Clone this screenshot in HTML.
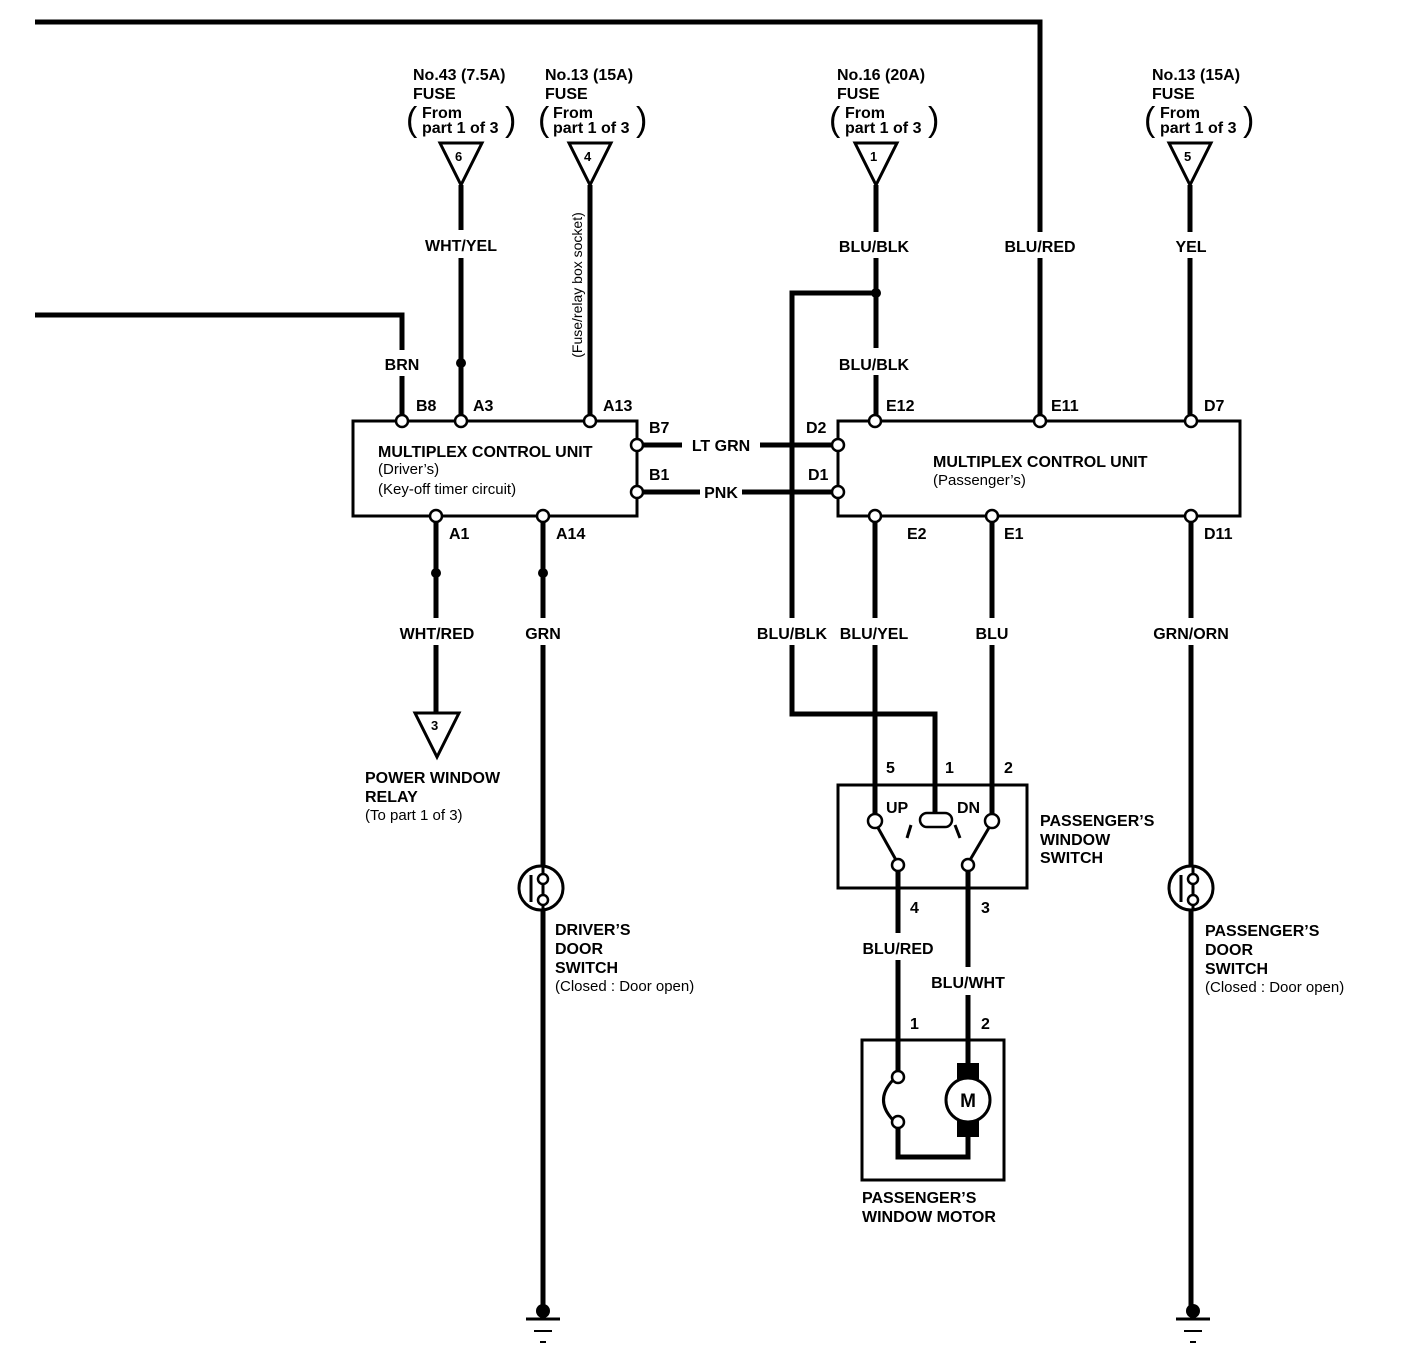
<!DOCTYPE html>
<html><head><meta charset="utf-8"><style>
html,body{margin:0;padding:0;background:#fff}
svg{display:block}
text{font-family:"Liberation Sans",Arial,sans-serif;font-weight:bold;fill:#000;font-size:16px}
.s{font-size:15px;font-weight:normal}
.w{stroke:#000;stroke-width:5;fill:none}
.b{stroke:#000;stroke-width:3;fill:none}
.p{stroke:#000;stroke-width:2.5;fill:#fff}
</style></head><body>
<svg width="1408" height="1366" viewBox="0 0 1408 1366" xmlns="http://www.w3.org/2000/svg">
<polyline class="w" points="35,22 1040,22 1040,232"/>
<line class="w" x1="1040" y1="258" x2="1040" y2="421"/>
<polyline class="w" points="35,315 402,315 402,350"/>
<line class="w" x1="402" y1="376" x2="402" y2="421"/>

<g id="fuses">
<text x="413" y="80">No.43 (7.5A)</text><text x="413" y="99">FUSE</text>
<text x="422" y="118">From</text><text x="422" y="133">part 1 of 3</text>
<text x="406" y="131" style="font-size:34px;font-weight:normal">(</text><text x="505" y="131" style="font-size:34px;font-weight:normal">)</text>
<polygon class="b" points="440,143 482,143 461,185" style="fill:#fff"/><text x="455" y="161" style="font-size:13px">6</text>

<text x="545" y="80">No.13 (15A)</text><text x="545" y="99">FUSE</text>
<text x="553" y="118">From</text><text x="553" y="133">part 1 of 3</text>
<text x="538" y="131" style="font-size:34px;font-weight:normal">(</text><text x="636" y="131" style="font-size:34px;font-weight:normal">)</text>
<polygon class="b" points="569,143 611,143 590,185" style="fill:#fff"/><text x="584" y="161" style="font-size:13px">4</text>

<text x="837" y="80">No.16 (20A)</text><text x="837" y="99">FUSE</text>
<text x="845" y="118">From</text><text x="845" y="133">part 1 of 3</text>
<text x="829" y="131" style="font-size:34px;font-weight:normal">(</text><text x="928" y="131" style="font-size:34px;font-weight:normal">)</text>
<polygon class="b" points="855,143 897,143 876,185" style="fill:#fff"/><text x="870" y="161" style="font-size:13px">1</text>

<text x="1152" y="80">No.13 (15A)</text><text x="1152" y="99">FUSE</text>
<text x="1160" y="118">From</text><text x="1160" y="133">part 1 of 3</text>
<text x="1144" y="131" style="font-size:34px;font-weight:normal">(</text><text x="1243" y="131" style="font-size:34px;font-weight:normal">)</text>
<polygon class="b" points="1169,143 1211,143 1190,185" style="fill:#fff"/><text x="1184" y="161" style="font-size:13px">5</text>
</g>

<line class="w" x1="461" y1="185" x2="461" y2="230"/><line class="w" x1="461" y1="258" x2="461" y2="421"/>
<text x="461" y="251" text-anchor="middle">WHT/YEL</text>
<circle cx="461" cy="363" r="5"/>
<line class="w" x1="590" y1="185" x2="590" y2="421"/>
<text transform="translate(582,285) rotate(-90)" text-anchor="middle" class="s" style="font-size:14px">(Fuse/relay box socket)</text>

<line class="w" x1="876" y1="185" x2="876" y2="232"/><line class="w" x1="876" y1="258" x2="876" y2="348"/><line class="w" x1="876" y1="375" x2="876" y2="421"/>
<text x="874" y="252" text-anchor="middle">BLU/BLK</text>
<text x="874" y="370" text-anchor="middle">BLU/BLK</text>
<circle cx="876" cy="293" r="5"/>
<polyline class="w" points="876,293 792,293 792,618"/>
<polyline class="w" points="792,645 792,714 935,714 935,813"/>
<text x="792" y="639" text-anchor="middle">BLU/BLK</text>

<text x="1040" y="252" text-anchor="middle">BLU/RED</text>
<line class="w" x1="1190" y1="185" x2="1190" y2="232"/><line class="w" x1="1190" y1="258" x2="1190" y2="421"/>
<text x="1191" y="252" text-anchor="middle">YEL</text>

<text x="402" y="370" text-anchor="middle">BRN</text>

<rect class="b" x="353" y="421" width="284" height="95"/>
<text x="416" y="411">B8</text><text x="473" y="411">A3</text><text x="603" y="411">A13</text>
<text x="649" y="433">B7</text><text x="649" y="480">B1</text>
<text x="449" y="539">A1</text><text x="556" y="539">A14</text>
<text x="378" y="457">MULTIPLEX CONTROL UNIT</text>
<text x="378" y="474" class="s">(Driver’s)</text>
<text x="378" y="494" class="s">(Key-off timer circuit)</text>

<rect class="b" x="838" y="421" width="402" height="95"/>
<text x="886" y="411">E12</text><text x="1051" y="411">E11</text><text x="1204" y="411">D7</text>
<text x="806" y="433">D2</text><text x="808" y="480">D1</text>
<text x="907" y="539">E2</text><text x="1004" y="539">E1</text><text x="1204" y="539">D11</text>
<text x="933" y="467">MULTIPLEX CONTROL UNIT</text>
<text x="933" y="485" class="s">(Passenger’s)</text>

<line class="w" x1="637" y1="445" x2="682" y2="445"/><line class="w" x1="760" y1="445" x2="838" y2="445"/>
<text x="721" y="451" text-anchor="middle">LT GRN</text>
<line class="w" x1="637" y1="492" x2="700" y2="492"/><line class="w" x1="742" y1="492" x2="838" y2="492"/>
<text x="721" y="498" text-anchor="middle">PNK</text>

<line class="w" x1="436" y1="516" x2="436" y2="618"/><line class="w" x1="436" y1="645" x2="436" y2="713"/>
<circle cx="436" cy="573" r="5"/>
<text x="437" y="639" text-anchor="middle">WHT/RED</text>
<polygon class="b" points="415,713 459,713 437,757" style="fill:#fff"/><text x="431" y="730" style="font-size:13px">3</text>
<text x="365" y="783">POWER WINDOW</text><text x="365" y="802">RELAY</text><text x="365" y="820" class="s">(To part 1 of 3)</text>

<line class="w" x1="543" y1="516" x2="543" y2="618"/><line class="w" x1="543" y1="645" x2="543" y2="1310"/>
<circle cx="543" cy="573" r="5"/>
<text x="543" y="639" text-anchor="middle">GRN</text>
<circle cx="541" cy="888" r="22" class="b" style="fill:#fff"/>
<line class="b" x1="531" y1="875" x2="531" y2="902"/>
<line class="b" x1="543" y1="866" x2="543" y2="910"/>
<circle cx="543" cy="879" r="5" class="p"/><circle cx="543" cy="900" r="5" class="p"/>
<text x="555" y="935">DRIVER’S</text><text x="555" y="954">DOOR</text><text x="555" y="973">SWITCH</text><text x="555" y="991" class="s">(Closed : Door open)</text>

<circle cx="543" cy="1311" r="7"/><line class="b" x1="526" y1="1319" x2="560" y2="1319"/>
<line x1="534" y1="1331" x2="552" y2="1331" stroke="#000" stroke-width="2"/><line x1="540" y1="1342" x2="546" y2="1342" stroke="#000" stroke-width="2"/>

<line class="w" x1="875" y1="516" x2="875" y2="618"/><line class="w" x1="875" y1="645" x2="875" y2="815"/>
<text x="874" y="639" text-anchor="middle">BLU/YEL</text>
<line class="w" x1="992" y1="516" x2="992" y2="618"/><line class="w" x1="992" y1="645" x2="992" y2="815"/>
<text x="992" y="639" text-anchor="middle">BLU</text>
<line class="w" x1="1191" y1="516" x2="1191" y2="618"/><line class="w" x1="1191" y1="645" x2="1191" y2="1310"/>
<text x="1191" y="639" text-anchor="middle">GRN/ORN</text>

<g class="p">
<circle cx="402" cy="421" r="6"/><circle cx="461" cy="421" r="6"/><circle cx="590" cy="421" r="6"/>
<circle cx="637" cy="445" r="6"/><circle cx="637" cy="492" r="6"/>
<circle cx="436" cy="516" r="6"/><circle cx="543" cy="516" r="6"/>
<circle cx="875" cy="421" r="6"/><circle cx="1040" cy="421" r="6"/><circle cx="1191" cy="421" r="6"/>
<circle cx="838" cy="445" r="6"/><circle cx="838" cy="492" r="6"/>
<circle cx="875" cy="516" r="6"/><circle cx="992" cy="516" r="6"/><circle cx="1191" cy="516" r="6"/>
</g>

<rect class="b" x="838" y="785" width="189" height="103"/>
<text x="886" y="773">5</text><text x="945" y="773">1</text><text x="1004" y="773">2</text>
<text x="886" y="813">UP</text><text x="957" y="813">DN</text>
<line class="b" x1="877" y1="826" x2="896" y2="860"/>
<line class="b" x1="990" y1="826" x2="970" y2="860"/>
<line class="b" x1="911" y1="825" x2="907" y2="838"/>
<line class="b" x1="955" y1="825" x2="960" y2="838"/>
<rect x="920" y="813" width="32" height="14" rx="7" class="p"/>
<circle cx="875" cy="821" r="7" class="p"/><circle cx="992" cy="821" r="7" class="p"/>
<circle cx="898" cy="865" r="6" class="p"/><circle cx="968" cy="865" r="6" class="p"/>
<text x="1040" y="826">PASSENGER’S</text><text x="1040" y="845">WINDOW</text><text x="1040" y="863">SWITCH</text>

<line class="w" x1="898" y1="871" x2="898" y2="933"/><line class="w" x1="898" y1="960" x2="898" y2="1072"/>
<line class="w" x1="968" y1="871" x2="968" y2="967"/><line class="w" x1="968" y1="995" x2="968" y2="1063"/>
<text x="910" y="913">4</text><text x="981" y="913">3</text>
<text x="898" y="954" text-anchor="middle">BLU/RED</text>
<text x="968" y="988" text-anchor="middle">BLU/WHT</text>
<text x="910" y="1029">1</text><text x="981" y="1029">2</text>

<rect class="b" x="862" y="1040" width="142" height="140"/>
<path class="b" d="M893,1080 Q874,1100 893,1120"/>
<polyline class="w" points="898,1127 898,1157 968,1157 968,1137"/>
<circle cx="898" cy="1077" r="6" class="p"/><circle cx="898" cy="1122" r="6" class="p"/>
<rect x="957" y="1063" width="22" height="16" fill="#000"/>
<rect x="957" y="1121" width="22" height="16" fill="#000"/>
<circle cx="968" cy="1100" r="22" class="b" style="fill:#fff"/>
<text x="968" y="1107" text-anchor="middle" style="font-size:19px">M</text>
<text x="862" y="1203">PASSENGER’S</text><text x="862" y="1222">WINDOW MOTOR</text>

<circle cx="1191" cy="888" r="22" class="b" style="fill:#fff"/>
<line class="b" x1="1181" y1="875" x2="1181" y2="902"/>
<line class="b" x1="1193" y1="866" x2="1193" y2="910"/>
<circle cx="1193" cy="879" r="5" class="p"/><circle cx="1193" cy="900" r="5" class="p"/>
<text x="1205" y="936">PASSENGER’S</text><text x="1205" y="955">DOOR</text><text x="1205" y="974">SWITCH</text><text x="1205" y="992" class="s">(Closed : Door open)</text>

<circle cx="1193" cy="1311" r="7"/><line class="b" x1="1176" y1="1319" x2="1210" y2="1319"/>
<line x1="1184" y1="1331" x2="1202" y2="1331" stroke="#000" stroke-width="2"/><line x1="1190" y1="1342" x2="1196" y2="1342" stroke="#000" stroke-width="2"/>
</svg>
</body></html>
